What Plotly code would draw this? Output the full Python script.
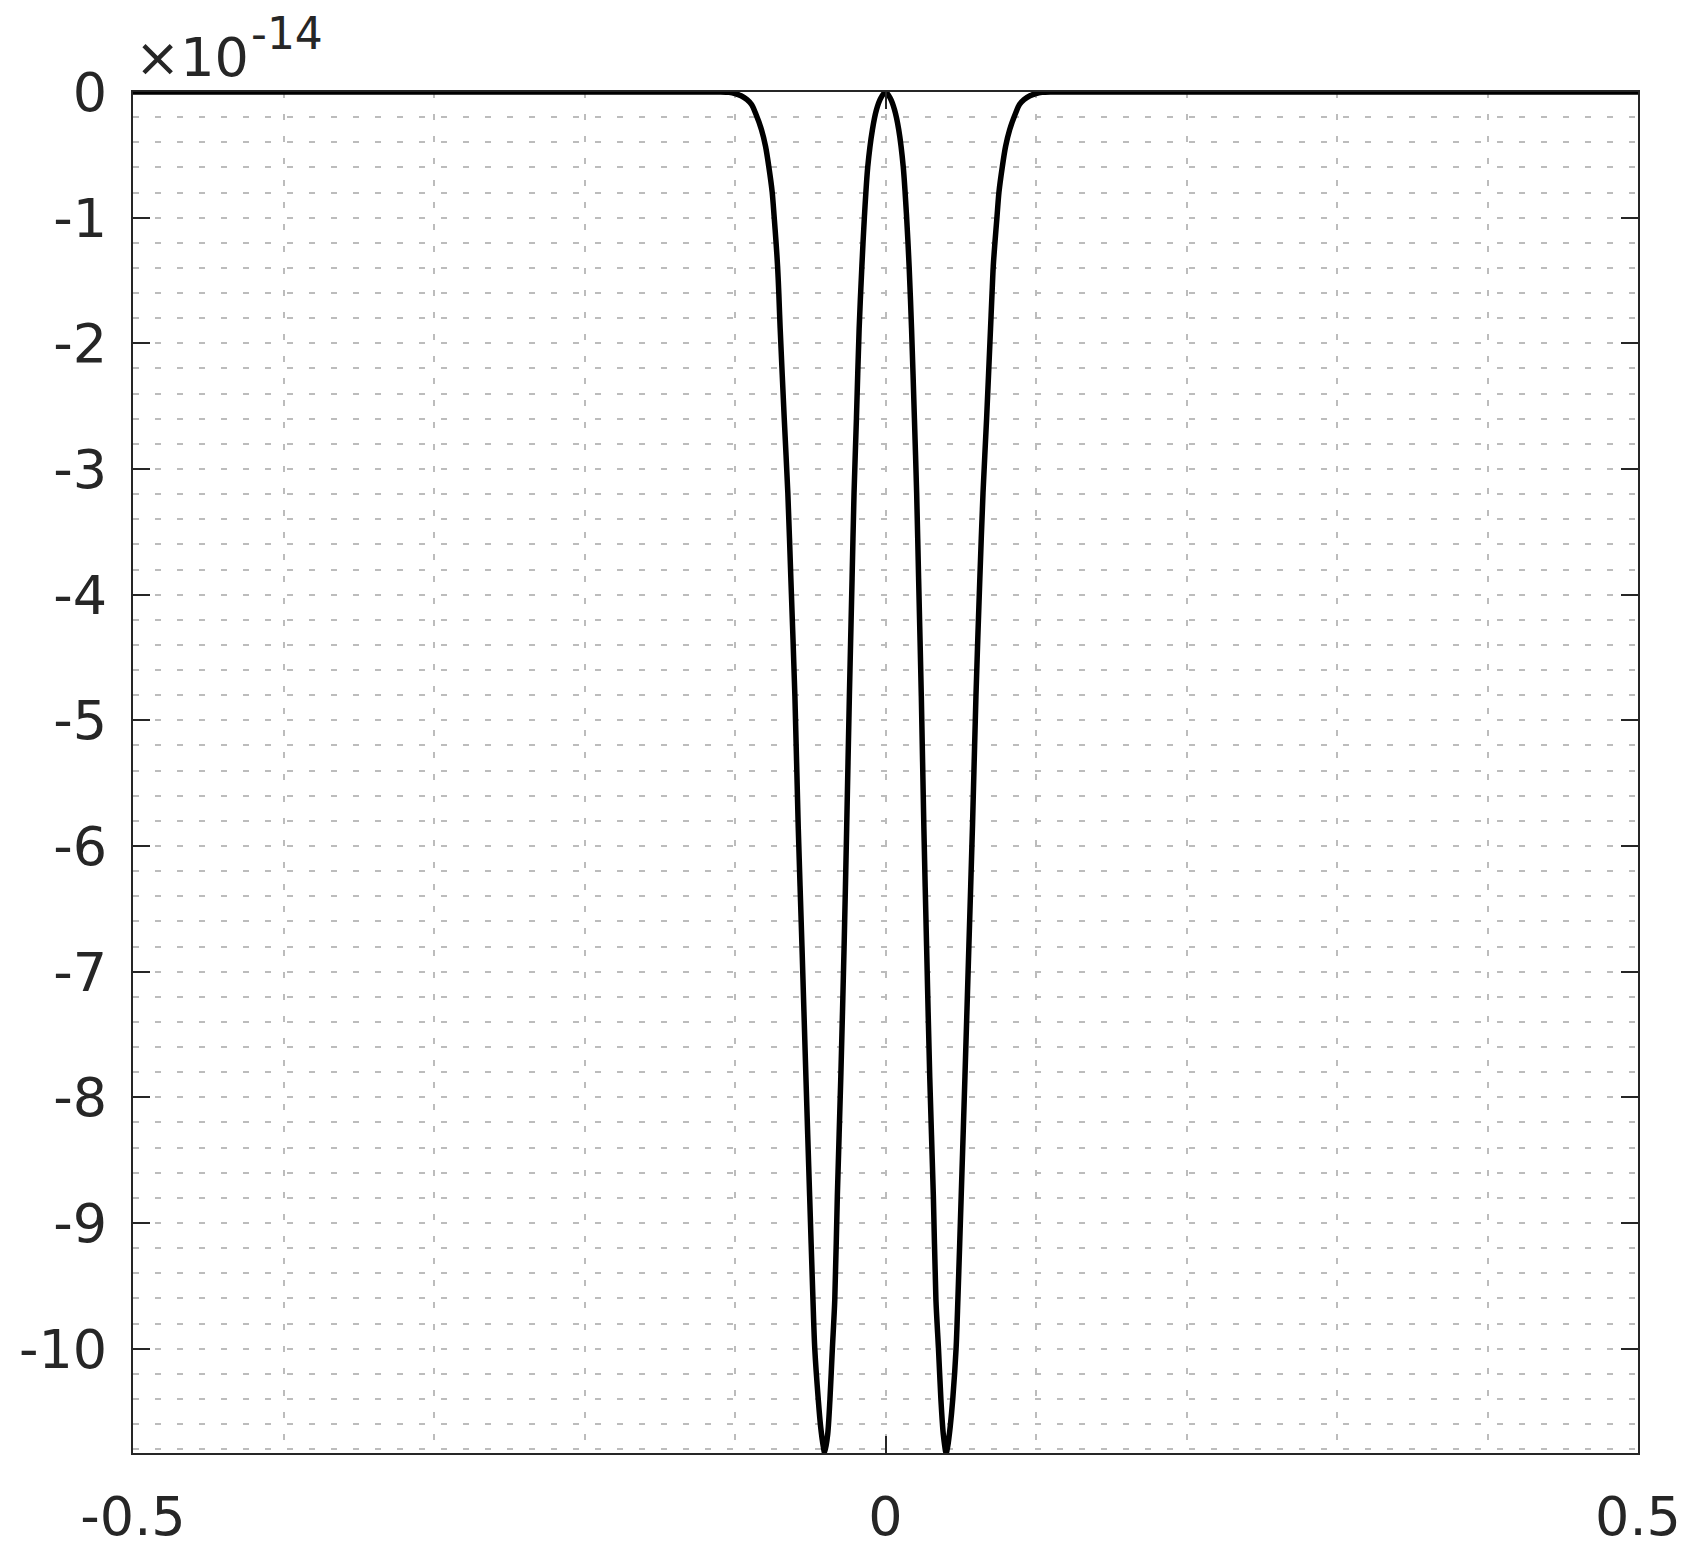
import plotly.graph_objects as go

# curve values (y in units of 1e-14)
x_vals = [
    -0.5, -0.11, -0.104, -0.100, -0.096, -0.092, -0.089, -0.0864, -0.0824,
    -0.0797, -0.0775, -0.0753, -0.0740, -0.0727, -0.0717, -0.0709, -0.0700,
    -0.0673, -0.0649, -0.0629, -0.0602, -0.0580, -0.0555, -0.0529, -0.0504,
    -0.0482, -0.0470, -0.0447, -0.0431, -0.0413, -0.0404,
    -0.0384, -0.0369, -0.0353, -0.0337, -0.0320, -0.0297, -0.0275, -0.0258,
    -0.0240, -0.0222, -0.0209, -0.0193, -0.0175, -0.0157, -0.0140, -0.0118,
    -0.0087, -0.0060, -0.0031, 0.0,
    0.0031, 0.0060, 0.0088, 0.0118, 0.0140, 0.0157, 0.0173, 0.0192, 0.0207,
    0.0220, 0.0238, 0.0255, 0.0273, 0.0294, 0.0318, 0.0335, 0.0352, 0.0368,
    0.0384, 0.0403,
    0.0413, 0.0430, 0.0447, 0.0469, 0.0481, 0.0503, 0.0528, 0.0554, 0.0578,
    0.0601, 0.0627, 0.0648, 0.0672, 0.0698, 0.0708, 0.0716, 0.0727, 0.0741,
    0.0754, 0.0776, 0.0798, 0.0825, 0.0865, 0.089, 0.092, 0.096, 0.100,
    0.104, 0.11, 0.5,
]
y_vals = [
    0.0, 0.0, -0.003, -0.012, -0.03, -0.061, -0.10, -0.167, -0.300,
    -0.433, -0.597, -0.796, -0.990, -1.201, -1.387, -1.599, -1.878,
    -2.594, -3.190, -3.867, -4.808, -5.842, -6.797, -7.831, -8.786,
    -9.61, -10.00, -10.40, -10.62, -10.78, -10.83,
    -10.68, -10.40, -10.00, -9.61, -8.786, -7.84, -6.797, -5.86,
    -4.808, -3.87, -3.190, -2.594, -1.88, -1.387, -0.990, -0.597,
    -0.300, -0.141, -0.048, 0.0,
    -0.048, -0.141, -0.300, -0.597, -0.990, -1.387, -1.88, -2.594, -3.190,
    -3.87, -4.808, -5.86, -6.797, -7.84, -8.786, -9.61, -10.00, -10.40,
    -10.68, -10.83,
    -10.78, -10.62, -10.40, -10.00, -9.61, -8.786, -7.831, -6.797, -5.842,
    -4.808, -3.867, -3.190, -2.594, -1.878, -1.599, -1.387, -1.201, -0.990,
    -0.796, -0.597, -0.433, -0.300, -0.167, -0.10, -0.061, -0.03, -0.012,
    -0.003, 0.0, 0.0,
]
x_ticks = [-0.5, 0, 0.5]
x_tick_text = ["-0.5", "0", "0.5"]
y_ticks = [0, -1, -2, -3, -4, -5, -6, -7, -8, -9, -10]
y_tick_text = [str(v) for v in y_ticks]
exponent_text = "-14"

INK = "#262626"
GRID = "rgb(188,188,188)"
FONT = "DejaVu Sans"

fig = go.Figure()
fig.add_trace(
    go.Scatter(
        x=x_vals, y=y_vals, mode="lines",
        line=dict(color="black", width=5.5, shape="spline", smoothing=0.8),
        showlegend=False,
    )
)

grid_style = dict(gridcolor=GRID, gridwidth=2, griddash="6px,16px")
axis_common = dict(
    showline=True, linecolor=INK, linewidth=2, mirror="ticks",
    ticks="inside", ticklen=17, tickwidth=2, tickcolor=INK,
    tickfont=dict(family=FONT, size=54, color=INK),
    zeroline=False, showgrid=True, automargin=False, **grid_style,
)

# page body adds an 8px offset, margins account for it
fig.update_layout(
    width=1706, height=1563,
    margin=dict(l=125, r=76, t=84, b=118),
    paper_bgcolor="white", plot_bgcolor="white",
    xaxis=dict(
        range=[-0.5, 0.5], tickvals=x_ticks, ticktext=x_tick_text,
        ticklabelstandoff=15,
        minor=dict(tick0=0, dtick=0.1, showgrid=True, ticks="", **grid_style),
        **axis_common,
    ),
    yaxis=dict(
        range=[-10.83, 0], tickvals=y_ticks, ticktext=y_tick_text,
        ticklabelstandoff=13,
        minor=dict(tick0=0, dtick=0.2, showgrid=True, ticks="", **grid_style),
        **axis_common,
    ),
    annotations=[
        dict(
            text="×10", xref="paper", yref="paper",
            x=0.0, y=1, xanchor="left", yanchor="bottom", yshift=1,
            showarrow=False, font=dict(family=FONT, size=54, color=INK),
        ),
        dict(
            text=exponent_text, xref="paper", yref="paper",
            x=0.077, y=1, xanchor="left", yanchor="bottom", yshift=31,
            showarrow=False, font=dict(family=FONT, size=44, color=INK),
        ),
    ],
)

fig.write_html("out.html")
